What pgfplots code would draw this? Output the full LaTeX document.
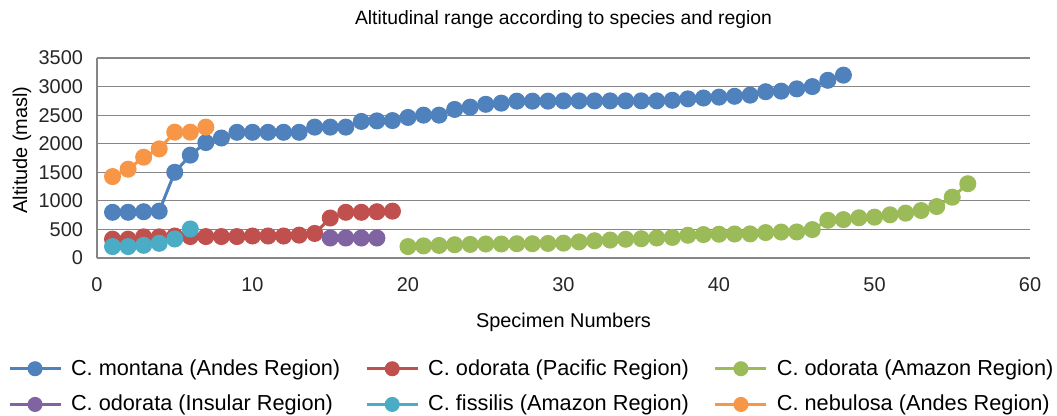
\documentclass[border=0pt]{standalone}
\usepackage{fontspec}
\setmainfont{Liberation Sans}
\usepackage{pgfplots}
\pgfplotsset{compat=1.18}
\definecolor{cblue}{HTML}{4F81BD}
\definecolor{cred}{HTML}{C0504D}
\definecolor{cgreen}{HTML}{9BBB59}
\definecolor{cpurple}{HTML}{8064A2}
\definecolor{ccyan}{HTML}{4BACC6}
\definecolor{corange}{HTML}{F79646}
\definecolor{gridgray}{RGB}{134,134,134}

\begin{document}
\begin{tikzpicture}
    % fixed page box: 1057 x 416 px at 0.5bp per px
    \path[use as bounding box] (-48.5bp,-79bp) rectangle (480bp,129bp);
    \begin{axis}[
        scale only axis,
        width=466.5bp,
        height=100bp,
        xmin=0, xmax=60,
        ymin=0, ymax=3500,
        xtick={0,10,...,60},
        ytick={0,500,...,3500},
        major tick length=0pt,
        axis x line*=bottom,
        axis y line*=left,
        axis line style={draw=gridgray, line width=0.6bp, -},
        ymajorgrids,
        grid style={draw=gridgray, line width=0.6bp},
        /pgf/number format/assume math mode=true,
        /pgf/number format/1000 sep={},
        tick label style={font=\fontsize{10}{12}\selectfont, color=black!85},
        xticklabel style={yshift=-6.5bp},
        yticklabel style={xshift=-3.5bp},
        title={Altitudinal range according to species and region},
        title style={font=\fontsize{9.7}{11}\selectfont, at={(0.5,1)}, anchor=center, yshift=13.5bp},
        xlabel={Specimen Numbers},
        xlabel style={font=\fontsize{10}{12}\selectfont, at={(0.5,0)}, anchor=center, yshift=-32bp},
        ylabel={Altitude (masl)},
        ylabel style={font=\fontsize{10}{12}\selectfont, at={(0,0.54)}, anchor=center, yshift=37.5bp},
        every axis plot/.append style={line width=1.5bp, mark=*, mark size=3.5bp},
        legend columns=3,
        legend style={draw=none, at={(0.467,0)}, anchor=north, yshift=-46.5bp,
            font=\fontsize{10.9}{12}\selectfont, column sep=2.5bp, row sep=4.5bp,
            /tikz/every even column/.append style={column sep=10.5bp}},
        legend cell align=left,
        legend image code/.code={
            \draw[mark repeat=2, mark phase=2, mark size=3bp] plot coordinates {(0bp,0bp) (12.75bp,0bp) (25.5bp,0bp)};
        },
    ]

    % C. montana (Andes)
    \addplot[color=cblue, mark options={fill=cblue}] coordinates {
        (1,800) (2,800) (3,810) (4,820) (5,1500) (6,1800) (7,2020) (8,2100)
        (9,2200) (10,2200) (11,2200) (12,2200) (13,2200) (14,2290) (15,2290)
        (16,2290) (17,2390) (18,2400) (19,2405) (20,2460) (21,2500) (22,2500)
        (23,2600) (24,2640) (25,2690) (26,2710) (27,2745) (28,2745) (29,2745)
        (30,2750) (31,2750) (32,2750) (33,2750) (34,2750) (35,2750) (36,2750)
        (37,2760) (38,2785) (39,2800) (40,2815) (41,2830) (42,2850) (43,2910)
        (44,2920) (45,2960) (46,3000) (47,3110) (48,3200)
    };

    % C. odorata (Pacific)
    \addplot[color=cred, mark options={fill=cred}] coordinates {
        (1,330) (2,330) (3,370) (4,370) (5,385) (6,375) (7,375) (8,375)
        (9,375) (10,385) (11,385) (12,385) (13,400) (14,430) (15,700)
        (16,800) (17,800) (18,810) (19,820)
    };

    % C. odorata (Amazon)
    \addplot[color=cgreen, mark options={fill=cgreen}] coordinates {
        (20,200) (21,212) (22,220) (23,232) (24,238) (25,245) (26,245)
        (27,250) (28,250) (29,255) (30,260) (31,282) (32,302) (33,314)
        (34,328) (35,337) (36,350) (37,360) (38,398) (39,410) (40,416)
        (41,420) (42,422) (43,445) (44,454) (45,456) (46,497) (47,660)
        (48,672) (49,704) (50,715) (51,756) (52,785) (53,831) (54,901)
        (55,1064) (56,1300)
    };

    % C. odorata (Insular)
    \addplot[color=cpurple, mark options={fill=cpurple}] coordinates {
        (15,350) (16,350) (17,350) (18,350)
    };

    % C. fissilis (Amazon)
    \addplot[color=ccyan, mark options={fill=ccyan}] coordinates {
        (1,200) (2,200) (3,222) (4,257) (5,333) (6,508)
    };

    % C. nebulosa (Andes)
    \addplot[color=corange, mark options={fill=corange}] coordinates {
        (1,1425) (2,1554) (3,1764) (4,1910) (5,2202) (6,2202) (7,2290)
    };

    \legend{C. montana (Andes Region), C. odorata (Pacific Region), C. odorata (Amazon Region),
            C. odorata (Insular Region), C. fissilis (Amazon Region), C. nebulosa (Andes Region)}
    \end{axis}
\end{tikzpicture}
\end{document}
